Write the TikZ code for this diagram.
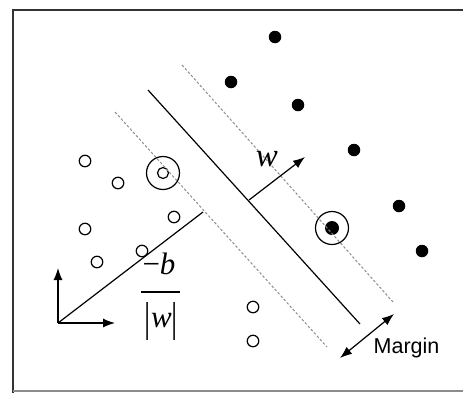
\documentclass[tikz,border=0pt]{standalone}
\usepackage{fontspec}
\newfontfamily\marginfont{Liberation Sans}
\newfontfamily\serifmath{Liberation Serif}
\newcommand{\tallbar}{\raisebox{-4pt}{\scalebox{1}[1.35]{|}}}
\usetikzlibrary{arrows.meta}
\begin{document}
\begin{tikzpicture}[x=1pt,y=-1pt,
  frameline/.style={draw=black!80,line width=1.6pt},
  solidline/.style={draw=black,line width=1.2pt},
  marginline/.style={draw=black!45,line width=1pt,dash pattern=on 2.5pt off 2pt},
  arr/.style={solidline,-{Latex[length=12pt,width=9pt]}},
  darr/.style={solidline,{Latex[length=12pt,width=9pt]}-{Latex[length=12pt,width=9pt]}},
  negpt/.style={circle,draw=black,line width=1.2pt,minimum size=11.5pt,inner sep=0pt},
  pospt/.style={circle,fill=black,minimum size=12.5pt,inner sep=0pt},
  ringpt/.style={circle,draw=black,line width=1.2pt,minimum size=33pt,inner sep=0pt},
  mathlbl/.style={inner sep=0pt,font=\fontsize{31}{34}\selectfont\serifmath},
  txtlbl/.style={inner sep=0pt,font=\fontsize{21.5}{26}\selectfont\marginfont}]
\useasboundingbox (0,0) rectangle (463,392);
\clip (0,0) rectangle (463,392);
% frame
\draw[frameline] (13,470) -- (13,10) -- (470,10);
\draw[draw=black!45,line width=1.2pt] (13,391) -- (470,391);
% negative points
\node[negpt] (n1) at (85,161) {};
\node[negpt] (n2) at (118,183) {};
\node[negpt] (n3) at (174,217) {};
\node[negpt] (n4) at (85,229) {};
\node[negpt] (n5) at (142,251) {};
\node[negpt] (n6) at (97,262) {};
\node[negpt] (n7) at (253,307) {};
\node[negpt] (n8) at (253,341) {};
\node[negpt,minimum size=11pt] (ns) at (163,173) {};
\node[ringpt] (nsr) at (163,173) {};
% positive points
\node[pospt] (p1) at (275,37) {};
\node[pospt] (p2) at (231,82) {};
\node[pospt] (p3) at (298,105) {};
\node[pospt] (p4) at (354,150) {};
\node[pospt] (p5) at (399,206) {};
\node[pospt] (p6) at (422,251) {};
\node[pospt,minimum size=14pt] (ps) at (332,228) {};
\node[ringpt] (psr) at (332,228) {};
% hyperplane and margins
\coordinate (h1) at (148,90);
\coordinate (h2) at (360,324);
\coordinate (u1) at (182,65);
\coordinate (u2) at (393,302);
\coordinate (l1) at (115,112);
\coordinate (l2) at (327,347);
\draw[marginline] (u1) -- (u2);
\draw[marginline] (l1) -- (l2);
\draw[solidline] (h1) -- (h2);
% normal vector w
\coordinate (ws) at (249,200);
\coordinate (we) at (305,157);
\draw[arr] (ws) -- (we);
\node[mathlbl,font=\fontsize{33}{36}\selectfont\serifmath,anchor=base] (wlbl) at (267,166) {\itshape w};
% axes and offset
\coordinate (o) at (58,323);
\coordinate (oy) at (58,268);
\coordinate (ox) at (115,323);
\coordinate (oe) at (203,212);
\draw[arr] (o) -- (oy);
\draw[arr] (o) -- (ox);
\draw[solidline] (o) -- (oe);
% -b / |w|
\node[mathlbl,anchor=base] (num) at (159,274) {−\itshape b};
\node[mathlbl,anchor=base] (den) at (161.5,327) {\tallbar\itshape w\upshape\tallbar};
\coordinate (bar1) at (141,292);
\coordinate (bar2) at (180,292);
\draw[line width=1.2pt] (bar1) -- (bar2);
% margin arrow
\coordinate (m1) at (340,358);
\coordinate (m2) at (394,314);
\draw[darr] (m1) -- (m2);
\node[txtlbl,anchor=base] (mlbl) at (406.5,353) {Margin};
\end{tikzpicture}
\end{document}
